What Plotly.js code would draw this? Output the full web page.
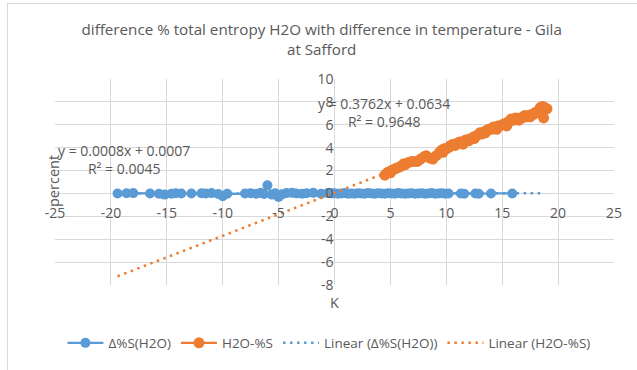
<!DOCTYPE html>
<html>
<head>
<meta charset="utf-8">
<script src="https://cdn.plot.ly/plotly-3.0.1.min.js"></script>
<style>
  html, body { margin: 0; padding: 0; background: #fff; }
  #chart { width: 637px; height: 370px; }
  #frame { position: absolute; left: 7px; top: 3px; width: 660px; height: 400px; border: 1px solid #d9d9d9; pointer-events: none; }
</style>
</head>
<body>
<div id="chart"></div>
<div id="frame"></div>
<script>
// ---- data ----
const blueX = [-19.4, -18.6, -18.0, -16.5, -15.7, -15.2, -14.6, -14.2, -13.7, -12.8, -11.9, -11.5, -11.0, -10.4, -10.0, -9.6,
  -8.0, -7.5, -7.0, -6.6, -6.3, -6.0, -5.6, -5.3, -5.0, -4.7, -4.3, -3.8, -3.4, -2.9, -2.5, -1.9, -1.2, -0.6, -0.2,
  0.0, 0.3, 0.6, 0.9, 1.2, 1.5, 1.8, 2.1, 2.4, 2.7, 3.0, 3.3, 3.6, 3.9, 4.2, 4.5, 4.8, 5.1, 5.4, 5.7, 6.0, 6.3, 6.6,
  6.9, 7.2, 7.5, 7.8, 8.1, 8.4, 8.7, 9.0, 9.3, 9.6, 9.9, 10.2, 11.3, 11.6, 12.6, 12.9, 14.0, 15.9];
const blueY = [0.0, 0.02, 0.03, 0.0, -0.02, -0.1, -0.03, 0.02, 0.0, 0.0, 0.02, 0.0, 0.03, -0.05, -0.25, -0.02,
  0.0, 0.02, -0.03, 0.05, -0.05, 0.72, -0.1, 0.02, -0.3, -0.08, 0.03, 0.05, 0.0, -0.03, 0.02, 0.05, -0.02, 0.03, 0.0,
  0.02, -0.03, 0.0, 0.03, -0.02, 0.0, -0.03, 0.02, 0.0, -0.02, 0.03, 0.0, -0.02, 0.02, 0.0, -0.03, 0.02, 0.0, -0.02,
  0.03, 0.0, -0.02, 0.0, 0.02, -0.03, 0.0, 0.02, -0.02, 0.0, 0.03, -0.02, 0.0, 0.02, -0.03, 0.0, 0.0, -0.02, 0.0, -0.03, 0.0, 0.0];

const orangeX = [4.5, 4.7, 4.9, 5.0, 5.1, 5.3, 5.5, 5.8, 6.0, 6.2, 6.3, 6.6, 6.9, 7.1, 7.4, 7.7, 8.0, 8.2, 8.5, 8.8, 9.1, 9.4,
  9.6, 9.7, 9.8, 10.0, 10.2, 10.3, 10.4, 10.6, 10.8, 11.0, 11.2, 11.4, 11.5, 11.6, 11.8, 12.0, 12.2, 12.4, 12.5, 12.6, 12.8,
  13.0, 13.2, 13.4, 13.5, 13.6, 13.8, 14.0, 14.2, 14.4, 14.5, 14.6, 14.8, 15.0, 15.2, 15.4, 15.5, 15.6, 15.8, 16.0, 16.2,
  16.4, 16.5, 16.6, 16.8, 17.0, 17.2, 17.4, 17.5, 17.6, 17.8, 18.0, 18.2, 18.4, 18.6, 18.8, 19.0, 18.7, 18.5];
const orangeY = [1.6, 1.8, 1.9, 1.8, 2.0, 2.1, 2.2, 2.3, 2.4, 2.6, 2.5, 2.7, 2.8, 2.8, 2.8, 3.0, 3.2, 3.3, 3.1, 3.0, 3.3, 3.6,
  3.8, 3.6, 3.9, 3.9, 4.0, 4.1, 4.2, 4.3, 4.2, 4.4, 4.5, 4.4, 4.3, 4.6, 4.7, 4.6, 4.8, 4.9, 4.8, 5.0, 5.1,
  5.3, 5.2, 5.4, 5.3, 5.5, 5.6, 5.6, 5.8, 5.7, 5.6, 5.9, 5.9, 6.0, 6.1, 5.9, 6.2, 6.3, 6.5, 6.4, 6.6,
  6.5, 6.4, 6.6, 6.6, 6.8, 6.7, 6.8, 6.7, 6.9, 6.9, 7.1, 7.2, 7.5, 7.6, 7.5, 7.4, 6.6, 7.0];

// trendline end points
const blueTrendX = [-19.4, 18.8];
const blueTrendY = [-0.0148, 0.0157];
const orangeTrendX = [-19.4, 19.0];
const orangeTrendY = [-7.235, 7.211];

const xTickVals = [-25, -20, -15, -10, -5, 0, 5, 10, 15, 20, 25];
const xTickText = ['-25', '-20', '-15', '-10', '-5', '0', '5', '10', '15', '20', '25'];
const yTickVals = [-8, -6, -4, -2, 0, 2, 4, 6, 8, 10];
const yTickText = ['-8', '-6', '-4', '-2', '0', '2', '4', '6', '8', '10'];

const names = ['Δ%S(H2O)', 'H2O-%S', 'Linear (Δ%S(H2O))', 'Linear (H2O-%S)'];
const titleText = 'difference % total entropy H2O with difference in temperature - Gila<br>at Safford';

// ---- chart ----
const BLUE = '#5B9BD5', ORANGE = '#ED7D31', GREY = '#595959', GRID = '#d9d9d9';
const FONT = 'Open Sans, sans-serif';

const traces = [
  { x: blueX, y: blueY, name: names[0], type: 'scatter', mode: 'lines+markers',
    line: { color: BLUE, width: 2.25 }, marker: { color: BLUE, size: 10 } },
  { x: orangeX, y: orangeY, name: names[1], type: 'scatter', mode: 'lines+markers',
    line: { color: ORANGE, width: 2.25 }, marker: { color: ORANGE, size: 11 } },
  { x: blueTrendX, y: blueTrendY, name: names[2], type: 'scatter', mode: 'lines',
    line: { color: BLUE, width: 2.5, dash: '2.5px,4.5px' } },
  { x: orangeTrendX, y: orangeTrendY, name: names[3], type: 'scatter', mode: 'lines',
    line: { color: ORANGE, width: 2.5, dash: '2.5px,4.5px' } }
];

const layout = {
  width: 637, height: 370,
  margin: { l: 55, r: 23, t: 79, b: 82, pad: 0 },
  paper_bgcolor: '#fff', plot_bgcolor: '#fff',
  font: { family: FONT, size: 14, color: GREY },
  title: { text: titleText, font: { family: FONT, size: 15.2, color: GREY },
    x: 0.505, xanchor: 'center', xref: 'container', y: 0.905, yanchor: 'middle', yref: 'container' },
  xaxis: { range: [-25, 25], tickvals: xTickVals, ticktext: xTickText, showgrid: true, gridcolor: GRID, gridwidth: 1,
    zeroline: true, zerolinecolor: GRID, zerolinewidth: 1, showline: false, ticks: '',
    anchor: 'free', position: 8 / 18, ticklabelstandoff: 10, tickfont: { size: 14, color: GREY }, automargin: false },
  yaxis: { range: [-8, 10], tickvals: yTickVals, ticktext: yTickText, showgrid: true, gridcolor: GRID, gridwidth: 1,
    zeroline: true, zerolinecolor: GRID, zerolinewidth: 1, showline: false, ticks: '',
    anchor: 'free', position: 0.5, ticklabelstandoff: 1, tickfont: { size: 14, color: GREY }, automargin: false },
  showlegend: true,
  legend: { orientation: 'h', x: 0.49, xanchor: 'center', y: -0.282, yanchor: 'middle', itemwidth: 36,
    font: { family: FONT, size: 13.5, color: GREY }, bgcolor: 'rgba(0,0,0,0)' },
  annotations: [
    { text: 'y = 0.0008x + 0.0007<br>R² = 0.0045', x: -18.8, y: 2.93, xref: 'x', yref: 'y',
      showarrow: false, align: 'center', font: { size: 14, color: GREY } },
    { text: 'y = 0.3762x + 0.0634<br>R² = 0.9648', x: 4.43, y: 7.1, xref: 'x', yref: 'y',
      showarrow: false, align: 'center', font: { size: 14, color: GREY } },
    { text: 'percent', textangle: -90, x: 0, y: 0, xref: 'paper', yref: 'paper',
      showarrow: false, font: { size: 14.5, color: GREY } },
    { text: 'K', x: 0, y: -8, xref: 'x', yref: 'y', yshift: -17, showarrow: false,
      font: { size: 14.5, color: GREY } }
  ]
};
// convert pixel position of the y title into paper coordinates
layout.annotations[2].x = (42 - 55) / 559;
layout.annotations[2].y = (288 - 183) / 209;

Plotly.newPlot('chart', traces, layout, { displayModeBar: false, staticPlot: true });
</script>
</body>
</html>
